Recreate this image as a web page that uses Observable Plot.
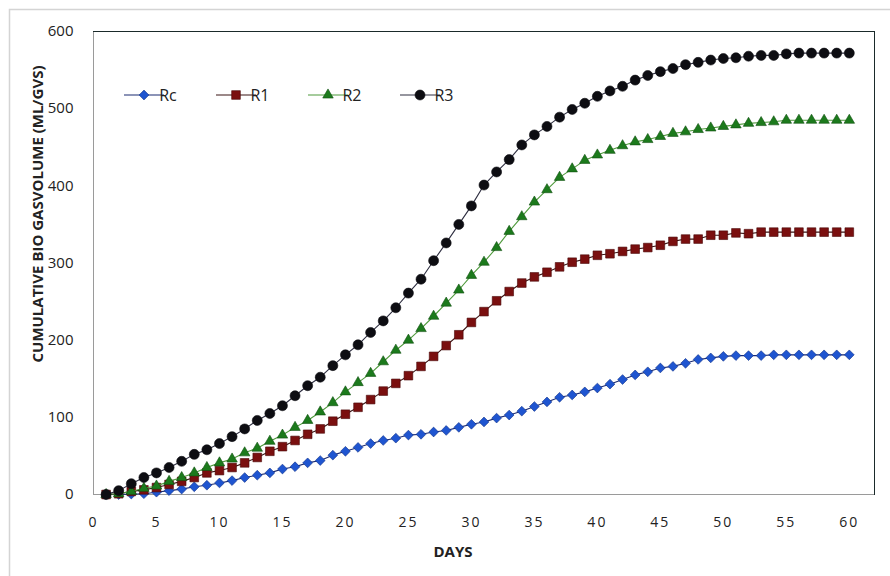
<!DOCTYPE html>
<html>
<head>
<meta charset="utf-8">
<script src="https://cdn.jsdelivr.net/npm/d3@7"></script>
<script src="https://cdn.jsdelivr.net/npm/@observablehq/plot@0.6"></script>
<style>
  html, body { margin: 0; padding: 0; background: #ffffff; }
  #chart { position: relative; width: 890px; height: 576px; overflow: hidden; }
</style>
</head>
<body>
<div id="chart"></div>
<script>
const days = [1,2,3,4,5,6,7,8,9,10,11,12,13,14,15,16,17,18,19,20,21,22,23,24,25,26,27,28,29,30,
  31,32,33,34,35,36,37,38,39,40,41,42,43,44,45,46,47,48,49,50,51,52,53,54,55,56,57,58,59,60];
const seriesNames = ["Rc", "R1", "R2", "R3"];
const Rc = [0,0,0.5,1,3,5,7,10,12,15, 18,22,25,28,33,36,41,44,51,56, 61,66,70,73,77,78,81,83,87,91,
  94,99,103,108,114,120,126,129,133,138, 143,149,155,159,164,166,170,175,177,179, 180,180,180,181,181,181,181,181,181,181];
const R1 = [0,1,4,6,9,13,17,22,28,31, 35,41,48,56,62,70,78,85,95,104, 113,123,134,144,154,166,179,193,207,223,
  237,251,263,274,282,288,295,301,305,310, 312,315,318,320,323,328,331,331,336,336, 339,338,340,340,340,340,340,340,340,340];
const R2 = [0,1,4,8,11,17,22,28,35,41, 46,54,60,69,77,87,96,107,119,133, 145,157,172,187,200,215,231,248,265,284,
  301,320,341,360,379,395,411,422,433,440, 446,452,457,460,464,468,470,473,475,477, 479,481,482,483,485,485,485,485,485,485];
const R3 = [0,5,14,22,28,35,43,52,58,66, 75,85,96,105,115,128,141,152,167,181, 194,210,225,242,261,279,303,326,350,374,
  401,418,434,453,466,477,489,499,507,516, 523,529,537,543,548,552,557,560,563,565, 566,568,569,569,571,572,572,572,572,572];
const xTicks = [0,5,10,15,20,25,30,35,40,45,50,55,60];
const yTicks = [0,100,200,300,400,500,600];

const valuesByName = {Rc, R1, R2, R3};
const styles = {
  Rc: {symbol: "diamond2", r: 4.4, fill: "#1f55d0", edge: "#0d2f86", line: "#1a2a70"},
  R1: {symbol: "square", r: 4.9, fill: "#7a0f0f", edge: "#4a0808", line: "#3a1414"},
  R2: {symbol: "triangle", r: 3.9, fill: "#1c7a1c", edge: "#0f4f0f", line: "#4f9a3c"},
  R3: {symbol: "circle", r: 5, fill: "#0d0d12", edge: "#0d0d12", line: "#2e2e40"}
};

const table = seriesNames.map(name => days.map((d, i) => ({day: d, value: valuesByName[name][i], name})));

const marks = [
  Plot.frame({anchor: "left", stroke: "#9a9a9a"}),
  Plot.ruleY([0], {stroke: "#9a9a9a"}),
  Plot.frame({anchor: "top", stroke: "#1a2a2a"}),
  Plot.frame({anchor: "right", stroke: "#1a2a2a"})
];
seriesNames.forEach((name, k) => {
  const s = styles[name];
  marks.push(Plot.line(table[k], {x: "day", y: "value", stroke: s.line, strokeWidth: 1.1}));
  marks.push(Plot.dot(table[k], {x: "day", y: "value", symbol: () => s.symbol, r: s.r, fill: s.fill, stroke: s.edge, strokeWidth: 0.6}));
});

const svg = Plot.plot({
  width: 890,
  height: 576,
  marginLeft: 93,
  marginRight: 16,
  marginTop: 31,
  marginBottom: 82,
  style: {fontFamily: "'Open Sans', sans-serif", fontSize: "14px", color: "#222", background: "transparent"},
  x: {domain: [0, 62], ticks: xTicks, tickSize: 0, tickPadding: 23, label: null, tickFormat: d => String(d)},
  y: {domain: [0, 600], ticks: yTicks, tickSize: 0, tickPadding: 20, label: null},
  marks
});

const root = d3.select(svg);
root.selectAll("g[aria-label='x-axis tick label'] text").style("letter-spacing", "2px");
root.selectAll("g[aria-label='y-axis tick label']").style("font-size", "15px");

// outer chart border
root.insert("rect", ":first-child")
  .attr("x", 9.5).attr("y", 9.5).attr("width", 900).attr("height", 600)
  .attr("fill", "none").attr("stroke", "#d4d4d4").attr("stroke-width", 1.5);

// axis titles
root.append("text")
  .attr("x", 453).attr("y", 557)
  .attr("text-anchor", "middle")
  .style("font-family", "'Open Sans', sans-serif").style("font-size", "15px").style("font-weight", "bold").style("fill", "#222")
  .text("DAYS");
root.append("text")
  .attr("transform", "translate(43,214) rotate(-90)")
  .attr("text-anchor", "middle")
  .style("font-family", "'Open Sans', sans-serif").style("font-size", "15px").style("font-weight", "bold").style("fill", "#222")
  .text("CUMULATIVE BIO GASVOLUME (ML/GVS)");

// legend
const symMap = {diamond2: d3.symbolDiamond2, square: d3.symbolSquare, triangle: d3.symbolTriangle, circle: d3.symbolCircle};
seriesNames.forEach((name, k) => {
  const s = styles[name];
  const cx = 144 + k * 92, cy = 95;
  const g = root.append("g");
  g.append("line").attr("x1", cx - 20).attr("x2", cx + 20).attr("y1", cy).attr("y2", cy)
    .attr("stroke", s.line).attr("stroke-width", 1.2);
  g.append("path").attr("transform", `translate(${cx},${cy})`)
    .attr("d", d3.symbol(symMap[s.symbol], Math.PI * s.r * s.r)())
    .attr("fill", s.fill).attr("stroke", s.edge).attr("stroke-width", 0.6);
  g.append("text").attr("x", cx + 24).attr("y", cy + 5.5)
    .style("font-family", "'Open Sans', sans-serif").style("font-size", "16px").style("fill", "#222")
    .text(name);
});

document.getElementById("chart").appendChild(svg);
</script>
</body>
</html>
